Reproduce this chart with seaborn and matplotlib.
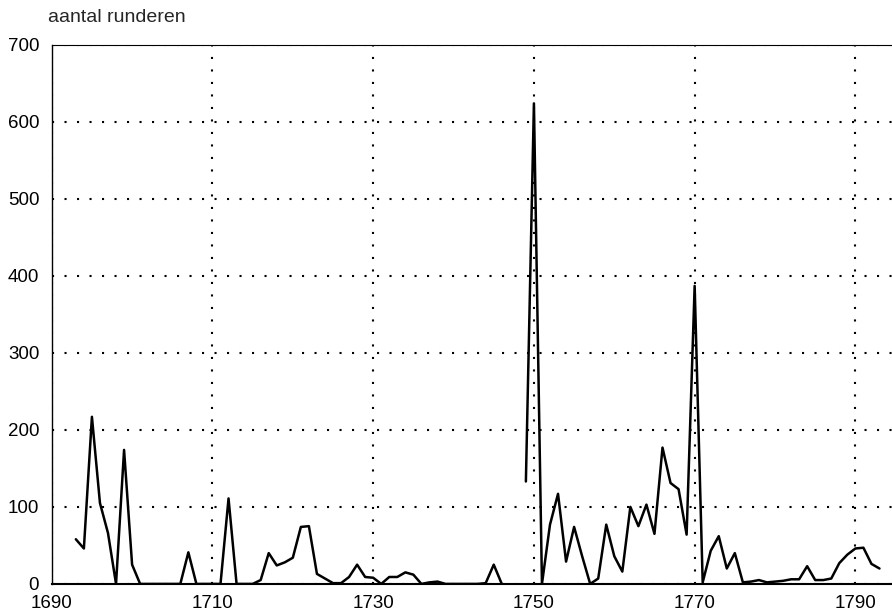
import numpy as np
import pandas as pd
import matplotlib
matplotlib.use("Agg")
import matplotlib.pyplot as plt
import seaborn as sns

# years and number of cattle, two periods (no data 1747-1748)
years_a = list(range(1693, 1747))
cattle_a = [58, 46, 217, 105, 66, 0, 174, 25, 0, 0,
            0, 0, 0, 0, 41, 0, 0, 0, 0, 111,
            0, 0, 0, 5, 40, 24, 28, 34, 74, 75,
            13, 7, 1, 1, 9, 25, 9, 8, 0, 9,
            9, 15, 12, 0, 2, 3, 0, 0, 0, 0,
            0, 1, 25, 0]
years_b = list(range(1749, 1794))
cattle_b = [133, 624, 0, 77, 117, 29, 74, 36, 0, 7,
            77, 36, 16, 100, 75, 103, 65, 177, 131, 123,
            64, 387, 2, 43, 62, 20, 40, 2, 3, 5,
            2, 3, 4, 6, 6, 23, 5, 5, 7, 27,
            38, 46, 47, 26, 20]

x_ticks = [1690, 1710, 1730, 1750, 1770, 1790]
y_ticks = [0, 100, 200, 300, 400, 500, 600, 700]

df = pd.concat([
    pd.DataFrame({"jaar": years_a, "aantal": cattle_a, "deel": "a"}),
    pd.DataFrame({"jaar": years_b, "aantal": cattle_b, "deel": "b"}),
])

sns.set_style("white")
plt.rcParams["font.family"] = ["Liberation Sans", "DejaVu Sans"]

fig = plt.figure(figsize=(8.92, 6.14), dpi=100)
ax = fig.add_axes([0.058, 0.049, 0.955, 0.878])

sns.lineplot(data=df, x="jaar", y="aantal", units="deel", estimator=None,
             color="black", linewidth=1.8, ax=ax, legend=False)

ax.set_xlim(1690, 1796)
ax.set_ylim(0, 700)
ax.set_xticks(x_ticks)
ax.set_yticks(y_ticks)
ax.grid(True, color="black", linestyle=(0, (1, 5)), linewidth=1.5)
ax.set_axisbelow(True)
ax.tick_params(length=0, labelsize=13.5, colors="black")
ax.tick_params(axis="y", pad=9)
ax.tick_params(axis="x", pad=8)
ax.set_xlabel("")
ax.set_ylabel("")

for side in ["left", "bottom", "top"]:
    ax.spines[side].set_visible(True)
    ax.spines[side].set_color("black")
ax.spines["left"].set_linewidth(1.0)
ax.spines["top"].set_linewidth(0.8)
ax.spines["bottom"].set_linewidth(1.5)
ax.spines["right"].set_visible(False)

fig.text(48 / 892, 1 - 18 / 614, "aantal runderen", fontsize=14,
         ha="left", va="center")

plt.savefig("out.png", dpi=100)
plt.close()
